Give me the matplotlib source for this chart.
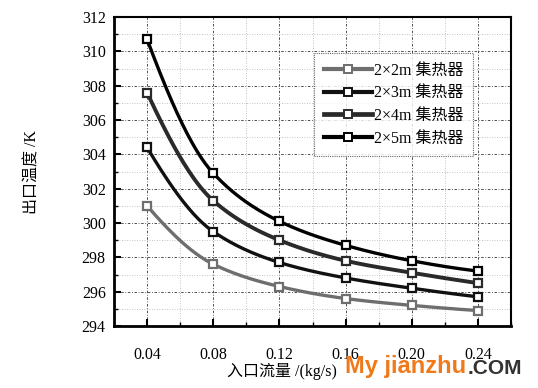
import numpy as np
import matplotlib
matplotlib.use("Agg")
import matplotlib.pyplot as plt
from matplotlib.ticker import MultipleLocator

flow = [0.04, 0.08, 0.12, 0.16, 0.20, 0.24]
t_2x2 = [301.0, 297.6, 296.3, 295.6, 295.2, 294.9]
t_2x3 = [304.4, 299.5, 297.7, 296.8, 296.2, 295.7]
t_2x4 = [307.6, 301.3, 299.0, 297.8, 297.1, 296.5]
t_2x5 = [310.7, 302.9, 300.1, 298.7, 297.8, 297.2]
labels = ["2×2m 集热器", "2×3m 集热器", "2×4m 集热器", "2×5m 集热器"]
xticks = [0.04, 0.08, 0.12, 0.16, 0.20, 0.24]
yticks = [294, 296, 298, 300, 302, 304, 306, 308, 310, 312]

FAM = ['Liberation Serif', 'Noto Sans CJK SC']
plt.rcParams['font.family'] = FAM


def pchip(x, y, n=200):
    x = np.asarray(x, float); y = np.asarray(y, float)
    h = np.diff(x); delta = np.diff(y) / h
    m = np.zeros_like(y)
    for i in range(1, len(x) - 1):
        if delta[i - 1] * delta[i] > 0:
            w1 = 2 * h[i] + h[i - 1]; w2 = h[i] + 2 * h[i - 1]
            m[i] = (w1 + w2) / (w1 / delta[i - 1] + w2 / delta[i])
    m[0] = ((2 * h[0] + h[1]) * delta[0] - h[0] * delta[1]) / (h[0] + h[1])
    if np.sign(m[0]) != np.sign(delta[0]):
        m[0] = 0
    m[-1] = ((2 * h[-1] + h[-2]) * delta[-1] - h[-1] * delta[-2]) / (h[-1] + h[-2])
    if np.sign(m[-1]) != np.sign(delta[-1]):
        m[-1] = 0
    xs = np.linspace(x[0], x[-1], n)
    ys = np.empty_like(xs)
    for j, xv in enumerate(xs):
        i = min(np.searchsorted(x, xv, side='right') - 1, len(x) - 2)
        t = (xv - x[i]) / h[i]
        h00 = 2 * t ** 3 - 3 * t ** 2 + 1; h10 = t ** 3 - 2 * t ** 2 + t
        h01 = -2 * t ** 3 + 3 * t ** 2; h11 = t ** 3 - t ** 2
        ys[j] = h00 * y[i] + h10 * h[i] * m[i] + h01 * y[i + 1] + h11 * h[i] * m[i + 1]
    return xs, ys


fig = plt.figure(figsize=(5.38, 3.88), dpi=100)
ax = fig.add_axes([114 / 538, 1 - 326 / 388, (511 - 114) / 538, (326 - 17) / 388])

series = [t_2x2, t_2x3, t_2x4, t_2x5]
colors = ['#6e6e6e', '#111111', '#2a2a2a', '#000000']
lws = [2.4, 2.4, 2.8, 2.4]
for ys, col, lw, lab in zip(series, colors, lws, labels):
    sx, sy = pchip(flow, ys)
    ax.plot(sx, sy, color=col, lw=lw, zorder=3)
    ax.plot(flow, ys, linestyle='none', marker='s', markersize=6,
            markerfacecolor='white', markeredgecolor=col, markeredgewidth=1.6, zorder=4)
    ax.plot([], [], color=col, lw=lw + 0.6, marker='s', markersize=5.5,
            markerfacecolor='white', markeredgecolor=col, markeredgewidth=1.4, label=lab)

ax.set_xlim(0.02, 0.26)
ax.set_ylim(294, 312)
ax.set_xticks(xticks)
ax.set_xticklabels([f"{v:.2f}" for v in xticks])
ax.set_yticks(yticks)
ax.set_yticklabels([str(v) for v in yticks])
ax.xaxis.set_minor_locator(MultipleLocator(0.02))
ax.yaxis.set_minor_locator(MultipleLocator(1))

ax.tick_params(axis='both', which='both', direction='in', top=False, right=False, color='black')
ax.tick_params(axis='both', which='major', length=5, width=1.5, labelsize=11.5)
ax.tick_params(axis='both', which='minor', length=3, width=1.0)
ax.tick_params(axis='x', which='major', pad=15)
ax.tick_params(axis='y', which='major', pad=6)

ax.grid(True, which='major', color='#333333', linestyle=(0, (3, 2, 1, 2)), lw=0.6)
ax.grid(True, which='minor', color='#b0b0b0', linestyle=(0, (1, 2)), lw=0.6)
ax.set_axisbelow(True)

for s in ['left', 'bottom']:
    ax.spines[s].set_linewidth(2.0)
for s in ['top', 'right']:
    ax.spines[s].set_linewidth(1.5)

ax.set_xlabel("入口流量 /(kg/s)", fontsize=11.5, labelpad=0)
ax.xaxis.set_label_coords((282 - 114) / 397, -(371 - 326) / 309)
ax.xaxis.label.set_va('center')
ax.set_ylabel("出口温度 /K", fontsize=11.5, labelpad=30)

leg = ax.legend(loc='upper left', bbox_to_anchor=((314 - 114) / 397, 1 - (53 - 17) / 309),
                fontsize=11.5, frameon=True, fancybox=False, handlelength=3.0,
                handletextpad=0.15, borderpad=0.6, labelspacing=0.42, borderaxespad=0)
leg.get_frame().set_edgecolor('#444444')
leg.get_frame().set_linewidth(0.8)
leg.get_frame().set_linestyle((0, (1, 1)))

fig.text(345 / 538, 1 - 366 / 388, "My jianzhu", color='#f07a1a', fontsize=17,
         fontweight='bold', family=['Liberation Sans', 'DejaVu Sans'], va='center', ha='left')
fig.text(468 / 538, 1 - 368 / 388, ".COM", color='#333333', fontsize=15,
         fontweight='bold', family=['Liberation Sans', 'DejaVu Sans'], va='center', ha='left')

fig.savefig("out.png", dpi=100)
